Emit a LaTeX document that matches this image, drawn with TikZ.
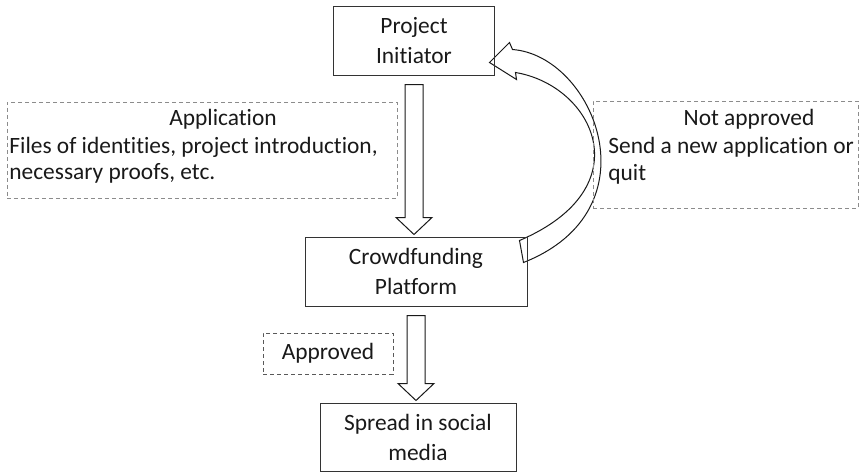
\documentclass[tikz,border=0pt]{standalone}
\usepackage{fontspec}
\setmainfont{Carlito}[Ligatures=NoCommon]
\usetikzlibrary{calc, backgrounds}
\tikzset{every text node part/.style={align=center}}
\tikzset{
	stagebox/.style={draw=black!80, line width=0.5pt, inner sep=0pt, text=black!90, font=\fontsize{11.7pt}{15pt}\selectfont},
	notebox/.style={draw=black!45, dashed, dash pattern=on 2.2pt off 1.3pt, line width=0.5pt, inner sep=0pt},
	notetext/.style={inner sep=0pt, text=black!90, font=\fontsize{11.7pt}{14pt}\selectfont},
	blockarrow/.style={draw=black!90, line width=0.5pt, fill=white, line join=miter}
}
\newcommand{\blockdown}[2]{%
	\path ($(#1.south)+(0,9)$) coordinate (ba-top) (ba-top |- #2.north) coordinate (ba-bot);
	%
	\draw[blockarrow] ($(ba-top)+(-9,0)$) -- ($(ba-bot)+(-9,-19)$) -- ($(ba-bot)+(-18,-19)$)
		-- ($(ba-bot)+(0,-2)$) -- ($(ba-bot)+(18,-19)$) -- ($(ba-bot)+(9,-19)$) -- ($(ba-top)+(9,0)$) -- cycle;
}

\begin{document}
\begin{tikzpicture}[x=0.5pt, y=-0.5pt, line cap=butt]
	\useasboundingbox (0,0) rectangle (859,472);
	
	% Stages
	\node[stagebox, minimum width=80.5pt, minimum height=34.5pt] (init) at (414,40.5) {Project\\Initiator};
	\node[stagebox, minimum width=111pt, minimum height=34.5pt] (platform) at (416,271.5) {Crowdfunding\\Platform};
	\node[stagebox, minimum width=98pt, minimum height=34pt] (spread) at (418,437) {Spread in social\\media};
	
	% Straight arrows
	\blockdown{init}{platform}
	\blockdown{platform}{spread}
	
	% Arrow back to the initiator
	\begin{pgfonlayer}{background}
		\coordinate (head) at ($(init.south east)+(-5.5,-13)$);
		\coordinate (tail) at ($(platform.north east)+(-8,4)$);
		\draw[blockarrow] ($(head)+(23,-13)$) -- ($(head)+(20,-20)$) -- (head) -- ($(head)+(27,17)$) -- ($(head)+(26,10)$)
			.. controls ($(head)+(104,23)$) and ($(tail)+(124,-53)$) .. (tail) -- ($(tail)+(4,22)$)
			.. controls ($(tail)+(138,-31)$) and ($(head)+(104,-7)$) .. ($(head)+(23,-13)$) -- cycle;
	\end{pgfonlayer}
	
	% Application
	\node[notebox, minimum width=195pt, minimum height=48pt] (appl) at (202,150) {};
	\node[notetext, anchor=base] (appl-title) at (223,125) {Application};
	\node[notetext, anchor=base west] (appl-line1) at (9,153) {Files of identities, project introduction,};
	\node[notetext, anchor=base west] (appl-line2) at (9,179) {necessary proofs, etc.};
	
	% Not approved
	\node[notebox, minimum width=132.5pt, minimum height=53.5pt] (notappr) at (725.5,154.5) {};
	\node[notetext, anchor=base] (notappr-title) at (749,125) {Not approved};
	\node[notetext, anchor=base west] (notappr-line1) at (608,153) {Send a new application or};
	\node[notetext, anchor=base west] (notappr-line2) at (608,180) {quit};
	
	% Approved
	\node[notebox, notetext, draw=black!65, minimum width=65pt, minimum height=20.5pt] (appr) at (328,353.5) {Approved};
\end{tikzpicture}
\end{document}
